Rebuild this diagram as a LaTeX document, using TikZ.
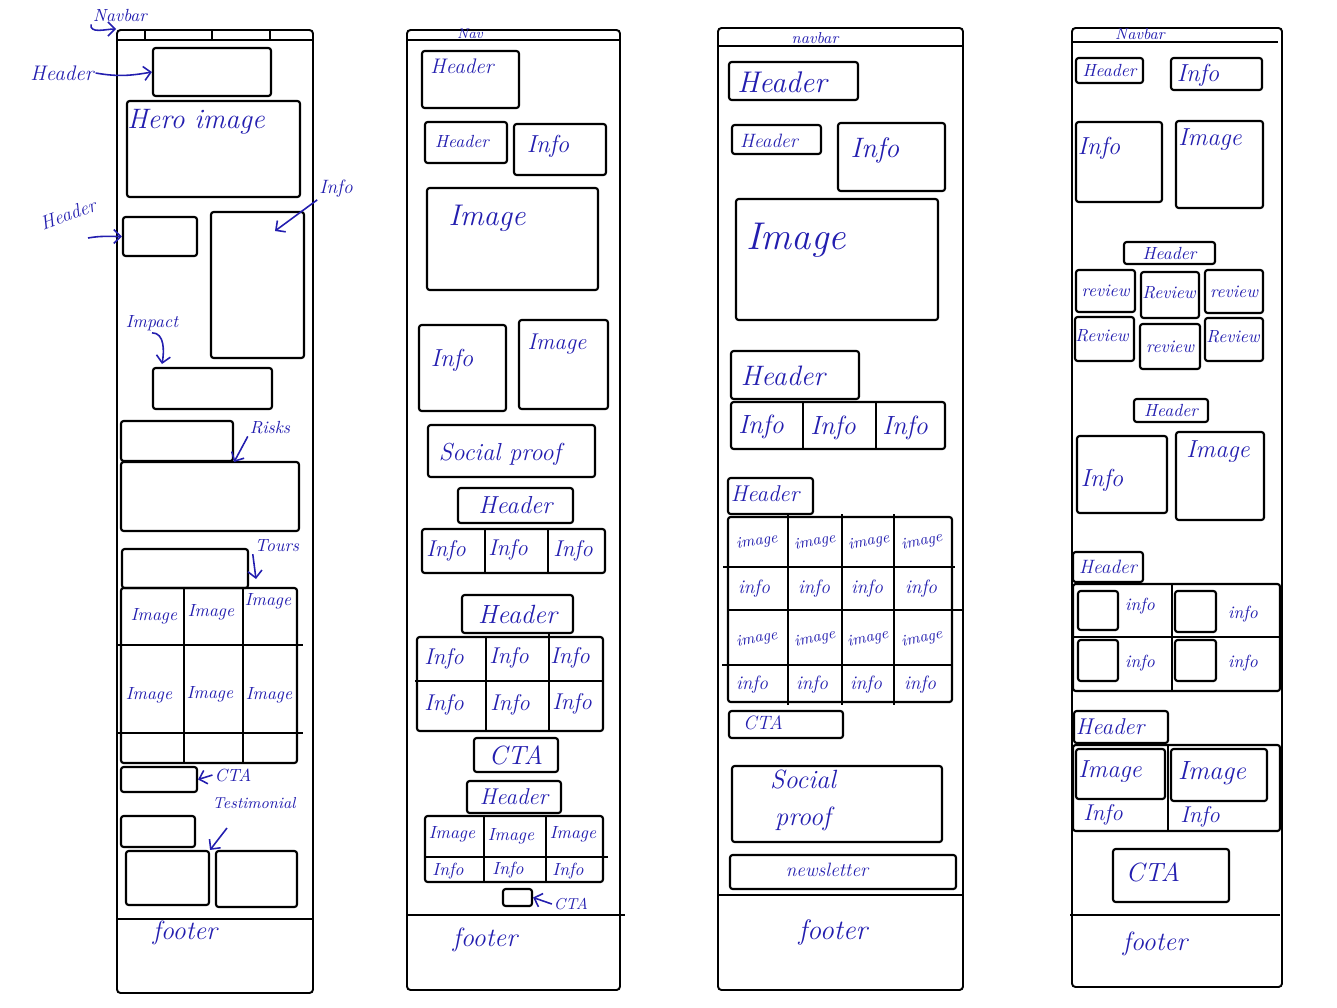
\documentclass[tikz,border=0pt]{standalone}
\usetikzlibrary{fit,arrows.meta}
\definecolor{ink}{RGB}{35,30,175}
% a wireframe box spanning two corners
\newcommand{\wb}[3]{\node[box,fit={(#2)(#3)}] (#1) {};}
\begin{document}
\begin{tikzpicture}%
[x=0.02cm,y=-0.02cm,%
frame/.style={draw, line width=1.1pt, inner sep=0pt, rounded corners=2pt},%
box/.style={draw, line width=1.2pt, inner sep=0pt, rounded corners=1.5pt},%
ln/.style={line width=1pt},%
hw/.style={text=ink, inner sep=1pt, align=center, font=\itshape\fontsize{#1}{#1}\selectfont},%
hw/.default=12,%
arr/.style={ink, line width=0.9pt, -{Straight Barb[length=4pt]}}]
\useasboundingbox (0,0) rectangle (1337,1007);

% first page
\node[frame,fit={(117,30)(313,993)}] (c1) {};
\draw[ln] (117,40) -- (313,40) (117,919) -- (313,919);
\foreach \x in {145,212,270} \draw[ln] (\x,30) -- (\x,40);
\wb{a1}{153,48}{271,96}
\wb{a2}{127,101}{300,197}
\node[hw=16] (a2t) at (196,122) {Hero image};
\wb{a3}{123,217}{197,256}
\wb{a4}{211,212}{304,358}
\wb{a5}{153,368}{272,409}
\wb{a6}{121,421}{233,461}
\wb{a7}{121,462}{299,531}
\wb{a8}{122,549}{248,588}
\wb{a9}{121,588}{297,763}
\draw[ln] (184,588) -- (184,763) (243,588) -- (243,763)
  (118,645) -- (303,645) (118,733) -- (303,733);
\node[hw=10] (a9a) at (154,616) {Image};
\node[hw=10] (a9b) at (211,612) {Image};
\node[hw=10] (a9c) at (268,601) {Image};
\node[hw=10] (a9d) at (149,695) {Image};
\node[hw=10] (a9e) at (210,694) {Image};
\node[hw=10] (a9f) at (269,695) {Image};
\wb{a10}{121,767}{197,792}
\wb{a11}{121,816}{195,847}
\wb{a12}{126,851}{209,905}
\wb{a13}{216,851}{297,907}
\node[hw=15] (a14) at (185,933) {footer};
% notes round the first page
\node[hw=10] (n1) at (120,16) {Navbar};
\draw[arr] (n1.south west) to[out=-100,in=180] (c1.north west);
\node[hw=12] (n2) at (62,73) {Header};
\draw[arr] (n2.east) to[out=-10,in=190] (a1.west);
\node[hw=11,rotate=20] (n3) at (68,214) {Header};
\draw[arr] (88,238) to[out=10,in=180] (a3.west);
\node[hw=11] (n4) at (336,189) {Info};
\coordinate (p4) at (275,231);
\draw[arr] (n4.south west) -- (p4);
\node[hw=10] (n5) at (152,323) {Impact};
\coordinate (p5) at (162,364);
\draw[arr] (n5.south) to[out=0,in=80] (p5);
\node[hw=10] (n6) at (270,428) {Risks};
\draw[arr] (n6.south west) -- (a6.south east);
\node[hw=10] (n7) at (277,546) {Tours};
\coordinate (p7) at (256,579);
\draw[arr] (n7.south west) -- (p7);
\node[hw=10] (n8) at (233,775) {CTA};
\draw[arr] (n8.west) -- (a10.east);
\node[hw=9] (n9) at (254,803) {Testimonial};
\draw[arr] (227,828) -- (a12.north east);

% second page
\node[frame,fit={(407,30)(620,990)}] (c2) {};
\draw[ln] (407,40) -- (620,40) (407,915) -- (625,915);
\node[hw=8] (b0) at (470,34) {Nav};
\wb{b1}{422,51}{519,108}
\node[hw=12] (b1t) at (462,66) {Header};
\wb{b2}{425,122}{507,163}
\node[hw=10] (b2t) at (462,141) {Header};
\wb{b3}{514,124}{606,175}
\node[hw=14] (b3t) at (548,146) {Info};
\wb{b4}{427,188}{598,290}
\node[hw=17] (b4t) at (487,218) {Image};
\wb{b5}{419,325}{506,411}
\node[hw=14] (b5t) at (452,360) {Info};
\wb{b6}{519,320}{608,409}
\node[hw=13] (b6t) at (557,344) {Image};
\wb{b7}{428,425}{595,477}
\node[hw=14] (b7t) at (500,454) {Social proof};
\wb{b8}{458,488}{573,523}
\node[hw=14] (b8t) at (b8) {Header};
\wb{b9}{422,529}{605,573}
\draw[ln] (485,529) -- (485,573) (548,529) -- (548,573);
\node[hw=13] (b9a) at (446,551) {Info};
\node[hw=13] (b9b) at (508,550) {Info};
\node[hw=13] (b9c) at (573,551) {Info};
\wb{b10}{462,595}{573,633}
\node[hw=15] (b10t) at (b10) {Header};
\wb{b11}{417,637}{603,731}
\draw[ln] (415,681) -- (603,681) (486,637) -- (486,731) (549,633) -- (549,731);
\node[hw=13] (b11a) at (444,659) {Info};
\node[hw=13] (b11b) at (509,658) {Info};
\node[hw=13] (b11c) at (570,658) {Info};
\node[hw=13] (b11d) at (444,705) {Info};
\node[hw=13] (b11e) at (510,705) {Info};
\node[hw=13] (b11f) at (572,704) {Info};
\wb{b12}{474,738}{558,772}
\node[hw=15] (b12t) at (b12) {CTA};
\wb{b13}{467,781}{561,813}
\node[hw=13] (b13t) at (b13) {Header};
\wb{b14}{425,816}{603,882}
\draw[ln] (425,857) -- (608,857) (484,816) -- (484,882) (546,816) -- (546,882);
\node[hw=10] (b14a) at (452,834) {Image};
\node[hw=10] (b14b) at (511,836) {Image};
\node[hw=10] (b14c) at (573,834) {Image};
\node[hw=10] (b14d) at (448,871) {Info};
\node[hw=10] (b14e) at (508,870) {Info};
\node[hw=10] (b14f) at (568,871) {Info};
\wb{b15}{503,889}{532,906}
\node[hw=9] (b16) at (571,904) {CTA};
\draw[arr] (b16.west) -- (b15.east);
\node[hw=15] (b17) at (485,940) {footer};

% third page
\node[frame,fit={(718,28)(963,990)}] (c3) {};
\draw[ln] (718,46) -- (963,46) (718,895) -- (963,895);
\node[hw=9] (d0) at (815,38) {navbar};
\wb{d1}{729,62}{858,100}
\node[hw=17] (d1t) at (782,82) {Header};
\wb{d2}{732,125}{821,154}
\node[hw=11] (d2t) at (769,141) {Header};
\wb{d3}{838,123}{945,191}
\node[hw=16] (d3t) at (875,150) {Info};
\wb{d4}{736,199}{938,320}
\node[hw=22] (d4t) at (796,240) {Image};
\wb{d5}{731,351}{859,399}
\node[hw=16] (d5t) at (783,376) {Header};
\wb{d6}{731,402}{945,449}
\draw[ln] (803,402) -- (803,449) (876,402) -- (876,449);
\node[hw=15] (d6a) at (761,427) {Info};
\node[hw=15] (d6b) at (833,428) {Info};
\node[hw=15] (d6c) at (905,428) {Info};
\wb{d7}{728,478}{813,514}
\node[hw=13] (d7t) at (765,494) {Header};
\wb{d8}{728,517}{952,702}
\draw[ln] (788,514) -- (788,705) (842,514) -- (842,705) (894,514) -- (894,705)
  (723,567) -- (955,567) (728,610) -- (962,610) (722,665) -- (952,665);
\foreach \x/\r [count=\i] in {757/8,815/10,869/10,922/12}
  \node[hw=9,rotate=\r] (d8a\i) at (\x,542) {image};
\foreach \x [count=\i] in {754,814,867,921}
  \node[hw=11] (d8b\i) at (\x,589) {info};
\foreach \x/\r [count=\i] in {757/10,815/12,868/12,922/12}
  \node[hw=9,rotate=\r] (d8c\i) at (\x,639) {image};
\foreach \x [count=\i] in {752,812,866,920}
  \node[hw=11] (d8d\i) at (\x,685) {info};
\wb{d9}{729,711}{843,738}
\node[hw=11] (d9t) at (763,723) {CTA};
\wb{d10}{732,766}{942,842}
\node[hw=15] (d10t) at (803,800) {Social\\[6pt]proof};
\wb{d11}{730,855}{956,889}
\node[hw=11] (d11t) at (827,870) {newsletter};
\node[hw=16] (d12) at (833,932) {footer};

% fourth page
\node[frame,fit={(1072,28)(1282,987)}] (c4) {};
\draw[ln] (1072,42) -- (1278,42) (1070,915) -- (1280,915);
\node[hw=9] (e0) at (1140,34) {Navbar};
\wb{e1}{1076,58}{1143,83}
\node[hw=10] (e1t) at (e1) {Header};
\wb{e2}{1171,58}{1262,90}
\node[hw=14] (e2t) at (1198,75) {Info};
\wb{e3}{1076,122}{1162,202}
\node[hw=14] (e3t) at (1099,148) {Info};
\wb{e4}{1176,121}{1263,208}
\node[hw=14] (e4t) at (1210,140) {Image};
\wb{e5}{1124,242}{1215,264}
\node[hw=10] (e5t) at (e5) {Header};
\wb{e6}{1076,270}{1135,312}
\node[hw=10] (e6t) at (e6) {review};
\wb{e7}{1141,272}{1199,318}
\node[hw=10] (e7t) at (1169,293) {Review};
\wb{e8}{1205,270}{1263,313}
\node[hw=10] (e8t) at (e8) {review};
\wb{e9}{1075,317}{1134,361}
\node[hw=10] (e9t) at (1102,336) {Review};
\wb{e10}{1140,324}{1200,369}
\node[hw=10] (e10t) at (e10) {review};
\wb{e11}{1205,318}{1263,361}
\node[hw=10] (e11t) at (1233,337) {Review};
\wb{e12}{1134,399}{1208,422}
\node[hw=10] (e12t) at (e12) {Header};
\wb{e13}{1077,436}{1167,513}
\node[hw=14] (e13t) at (1102,480) {Info};
\wb{e14}{1176,432}{1264,520}
\node[hw=14] (e14t) at (1218,452) {Image};
\wb{e15}{1073,552}{1143,582}
\node[hw=11] (e15t) at (e15) {Header};
\wb{e16}{1073,584}{1280,691}
\draw[ln] (1073,637) -- (1280,637) (1172,584) -- (1172,691);
\wb{s1}{1078,591}{1118,630}
\wb{s2}{1175,591}{1216,632}
\wb{s3}{1078,640}{1118,681}
\wb{s4}{1175,640}{1216,681}
\node[hw=10] (s1t) at (1140,606) {info};
\node[hw=10] (s2t) at (1243,614) {info};
\node[hw=10] (s3t) at (1140,663) {info};
\node[hw=10] (s4t) at (1243,663) {info};
\wb{e17}{1074,711}{1168,743}
\node[hw=13] (e17t) at (1110,727) {Header};
\wb{e18}{1073,745}{1280,831}
\draw[ln] (1168,745) -- (1168,831);
\wb{e19}{1076,749}{1165,799}
\node[hw=14] (e19t) at (1110,772) {Image};
\wb{e20}{1171,749}{1267,801}
\node[hw=15] (e20t) at (1212,773) {Image};
\node[hw=13] (e21) at (1103,815) {Info};
\node[hw=13] (e22) at (1200,817) {Info};
\wb{e23}{1113,849}{1229,902}
\node[hw=15] (e23t) at (1153,872) {CTA};
\node[hw=15] (e24) at (1155,944) {footer};
\end{tikzpicture}
\end{document}
